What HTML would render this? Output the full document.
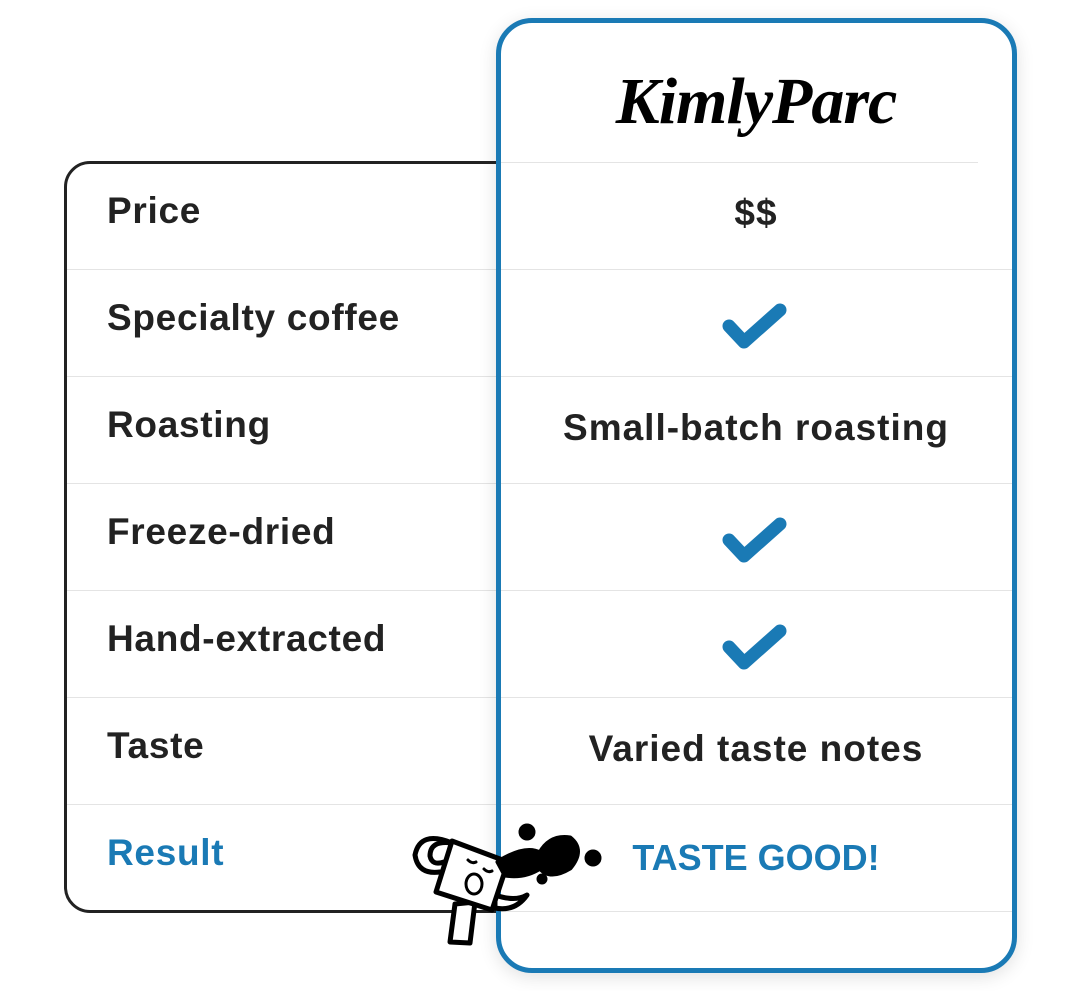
<!DOCTYPE html>
<html><head><meta charset="utf-8"><style>
html,body{margin:0;padding:0;background:#fff;}
body{width:1075px;height:991px;position:relative;overflow:hidden;font-family:"Liberation Sans","DejaVu Sans",sans-serif;color:#222;}
.left{position:absolute;left:64px;top:161px;width:470px;height:752px;border:3px solid #222;border-radius:26px;box-sizing:border-box;}
.right{position:absolute;left:496px;top:18px;width:521px;height:955px;border:5px solid #1a7ab5;border-radius:36px;box-sizing:border-box;background:#fff;box-shadow:0 4px 18px rgba(0,0,0,0.12);}
.hl{position:absolute;height:1px;background:#e4e4e4;}
.lab{position:absolute;left:107px;font-size:37px;font-weight:bold;letter-spacing:0.7px;}
.val{position:absolute;left:500px;width:512px;text-align:center;font-size:37px;font-weight:bold;letter-spacing:1px;}
.logo{position:absolute;left:500px;width:512px;top:64px;text-align:center;font-family:"Liberation Serif",serif;font-style:italic;font-weight:bold;font-size:66px;color:#000;letter-spacing:-1px;}
</style></head><body>
<div class="left"></div>
<div class="hl" style="left:67px;width:430px;top:269px"></div>
<div class="hl" style="left:67px;width:430px;top:376px"></div>
<div class="hl" style="left:67px;width:430px;top:483px"></div>
<div class="hl" style="left:67px;width:430px;top:590px"></div>
<div class="hl" style="left:67px;width:430px;top:697px"></div>
<div class="hl" style="left:67px;width:430px;top:804px"></div>
<div class="lab" style="top:190px">Price</div>
<div class="lab" style="top:297px">Specialty coffee</div>
<div class="lab" style="top:404px">Roasting</div>
<div class="lab" style="top:511px">Freeze-dried</div>
<div class="lab" style="top:618px">Hand-extracted</div>
<div class="lab" style="top:725px">Taste</div>
<div class="lab" style="top:832px;color:#1a7ab5">Result</div>
<div class="right"></div>
<div class="hl" style="left:501px;width:477px;top:162px"></div>
<div class="hl" style="left:501px;width:511px;top:269px"></div>
<div class="hl" style="left:501px;width:511px;top:376px"></div>
<div class="hl" style="left:501px;width:511px;top:483px"></div>
<div class="hl" style="left:501px;width:511px;top:590px"></div>
<div class="hl" style="left:501px;width:511px;top:697px"></div>
<div class="hl" style="left:501px;width:511px;top:804px"></div>
<div class="hl" style="left:501px;width:511px;top:911px"></div>
<div class="logo">KimlyParc</div>
<div class="val" style="top:192px">$$</div>
<div class="val" style="top:407px">Small-batch roasting</div>
<div class="val" style="top:728px">Varied taste notes</div>
<div class="val" style="top:837px;color:#1a7ab5;font-size:36px;letter-spacing:0">TASTE GOOD!</div>
<svg style="position:absolute;left:0;top:0" width="1075" height="991">
<g fill="none" stroke="#1a7ab5" stroke-width="13" stroke-linecap="round" stroke-linejoin="round">
<path d="M729 326 L744 342 L780 310"/>
<path d="M729 540 L744 556 L780 524"/>
<path d="M729 647 L744 663 L780 631"/>
</g>
<g stroke="#000" stroke-width="5" stroke-linecap="round" stroke-linejoin="round">
<path d="M455 904 L450 942 L470 943 L475 902 Z" fill="#fff"/>
<path d="M495 895 Q515 902 527 895 Q515 912 495 908 Z" fill="#fff"/>
<path d="M452 843 Q420 830 415 855 Q418 875 440 872" fill="none"/>
<path d="M452 843 Q430 840 430 856 Q432 866 444 862" fill="none"/>
<path d="M452 841 L508 862 L492 910 L436 892 Z" fill="#fff"/>
<path d="M498 862 Q525 845 540 853 Q550 835 570 838 Q585 850 570 868 Q550 880 540 868 Q525 878 505 875 Z" fill="#000"/>
<circle cx="527" cy="832" r="6" fill="#000"/>
<circle cx="593" cy="858" r="6" fill="#000"/>
<circle cx="542" cy="879" r="3" fill="#000"/>
<path d="M468 860 q4 4 8 2 M484 869 q4 4 8 2" fill="none" stroke-width="3"/>
<ellipse cx="474" cy="884" rx="8" ry="10" fill="#fff" stroke-width="3"/>
</g>
</svg>
</body></html>
